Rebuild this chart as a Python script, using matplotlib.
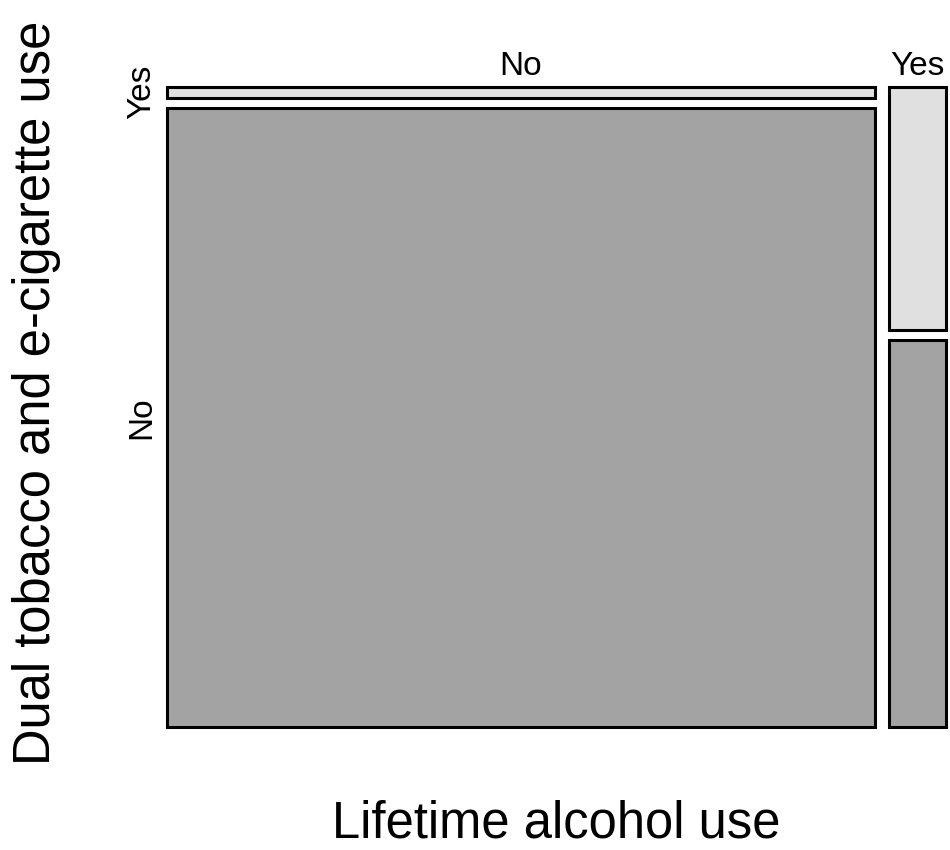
import matplotlib.pyplot as plt
from matplotlib.patches import Rectangle

plt.rcParams['font.family'] = ['Liberation Sans', 'DejaVu Sans']

# counts per cell: alcohol use (columns) x dual use (rows)
alcohol = ["No", "Yes"]
dual = ["Yes", "No"]
counts = {
    "No": [155, 9100],
    "Yes": [287, 458],
}
colors = {"Yes": "#e0e0e0", "No": "#a3a3a3"}

W, H = 950, 850
fig = plt.figure(figsize=(W / 100, H / 100), dpi=100)
# plot region in pixels
x0, x1, y0, y1 = 167, 946, 87, 727
ax = fig.add_axes([x0 / W, 1 - y1 / H, (x1 - x0) / W, (y1 - y0) / H])
ax.set_xlim(0, 1)
ax.set_ylim(0, 1)
ax.axis('off')

gx = 14 / (x1 - x0)
gy = 10.5 / (y1 - y0)

col_tot = {a: sum(counts[a]) for a in alcohol}
total = sum(col_tot.values())

x = 0
for a in alcohol:
    w = col_tot[a] / total * (1 - gx * (len(alcohol) - 1))
    top = 1
    for d, n in zip(dual, counts[a]):
        h = n / col_tot[a] * (1 - gy * (len(dual) - 1))
        ax.add_patch(Rectangle((x, top - h), w, h, facecolor=colors[d],
                               edgecolor='black', lw=2.2, clip_on=False))
        top -= h + gy
    ax.text(x + w / 2, 1 + 12 / (y1 - y0), a, ha='center', va='baseline',
            fontsize=24)
    x += w + gx

# row labels from the first column
a = alcohol[0]
top = 1
for d, n in zip(dual, counts[a]):
    h = n / col_tot[a] * (1 - gy * (len(dual) - 1))
    ax.text(-17 / (x1 - x0), top - h / 2, d, ha='center', va='baseline',
            rotation=90, rotation_mode='anchor', fontsize=24)
    top -= h + gy

fig.text((x0 + x1) / 2 / W, 1 - 838 / H, "Lifetime alcohol use",
         ha='center', va='baseline', fontsize=36.5)
fig.text(50 / W, 1 - 393 / H, "Dual tobacco and e-cigarette use",
         ha='center', va='baseline', rotation=90, rotation_mode='anchor',
         fontsize=36.5)

fig.savefig("out.png", dpi=100)
